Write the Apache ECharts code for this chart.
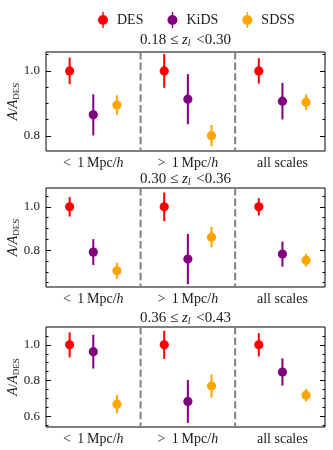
<!DOCTYPE html>
<html>
<head>
<meta charset="utf-8">
<script src="https://cdn.jsdelivr.net/npm/echarts@6/dist/echarts.min.js"></script>
<style>
html, body { margin: 0; padding: 0; background: #fff; }
#chart { width: 333px; height: 450px; }
</style>
</head>
<body>
<div id="chart"></div>
<script>
// 数据：A / A_DES，每行一个 z_l 区间，每列一个尺度
const surveys = ['DES', 'KiDS', 'SDSS']
const scaleLabels = ['< 1 Mpc/h', '> 1 Mpc/h', 'all scales']
const zBins = [['0.18', '0.30'], ['0.30', '0.36'], ['0.36', '0.43']]

const desRatio = [[1, 1, 1], [1, 1, 1], [1, 1, 1]]
const desErr = [[0.041, 0.052, 0.039], [0.045, 0.066, 0.040], [0.070, 0.079, 0.065]]
const kidsRatio = [[0.865, 0.913, 0.907], [0.791, 0.759, 0.782], [0.962, 0.683, 0.848]]
const kidsErr = [[0.063, 0.077, 0.056], [0.060, 0.116, 0.058], [0.095, 0.120, 0.076]]
const sdssRatio = [[0.895, 0.801, 0.904], [0.705, 0.860, 0.753], [0.668, 0.769, 0.718]]
const sdssErr = [[0.030, 0.033, 0.024], [0.037, 0.047, 0.030], [0.052, 0.065, 0.035]]

const yRanges = [[0.754, 1.058], [0.630, 1.087], [0.540, 1.100]]
const yMajor = [0.6, 0.8, 1.0]
const yMinor = [0.55, 0.65, 0.7, 0.75, 0.85, 0.9, 0.95, 1.05]
const dividers = [0.5, 1.5]

// 样式
const FONT = 'Liberation Serif'
const TXT = '#1a1a1a'
const colors = ['#ff0000', '#800080', '#ffa500']
const offsets = [-0.25, 0, 0.25]
const boxTop = [52, 188, 327]
const boxH = [99, 99, 100]
const boxLeft = 46
const boxW = 279
const titleY = [40, 179, 318]

const ratios = [desRatio, kidsRatio, sdssRatio]
const errs = [desErr, kidsErr, sdssErr]

const inRange = (arr, r) => arr.filter((v) => v > r[0] + 1e-6 && v < r[1] - 1e-6)

const grid = []
const xAxis = []
const yAxis = []
const series = []
const graphic = []

yRanges.forEach((r, p) => {
    grid.push({
        left: boxLeft, top: boxTop[p], width: boxW, height: boxH[p],
        outerBoundsMode: 'none', containLabel: false,
        show: true, borderColor: '#000', borderWidth: 1, backgroundColor: 'transparent',
    })

    xAxis.push({
        type: 'value', gridIndex: p, min: -0.5, max: 2.45,
        axisLine: { show: false, onZero: false }, axisTick: { show: false }, splitLine: { show: false },
        axisLabel: {
            customValues: [0, 1, 2],
            margin: 5,
            color: TXT, fontFamily: FONT, fontSize: 14,
            formatter: (v) => scaleLabels[Math.round(v)].replace('< 1 ', '<\u2009 1\u2009').replace('> 1 ', '>\u2009 1\u2009').replace('/h', '/{i|h}'),
            rich: { i: { fontStyle: 'italic', fontFamily: FONT, fontSize: 14, color: TXT } },
        },
    })

    // 左右主刻度、次刻度（朝内）
    const base = yAxis.length
    ;['left', 'right'].forEach((pos) => {
        yAxis.push({
            type: 'value', gridIndex: p, position: pos, min: r[0], max: r[1],
            axisLine: { show: false, onZero: false }, splitLine: { show: false },
            axisTick: { inside: true, length: 5, customValues: inRange(yMajor, r), lineStyle: { color: '#000', width: 1 } },
            axisLabel: {
                show: pos === 'left', customValues: inRange(yMajor, r), margin: 6,
                color: TXT, fontFamily: FONT, fontSize: 13,
                formatter: (v) => v.toFixed(1),
            },
            name: pos === 'left' ? '{i|A}/{i|A}{s|DES}' : '',
            nameLocation: 'middle', nameRotate: 90, nameGap: 25, nameMoveOverlap: false,
            nameTextStyle: {
                color: TXT, fontFamily: FONT, fontSize: 13,
                rich: {
                    i: { fontStyle: 'italic', fontFamily: FONT, fontSize: 14, color: TXT },
                    s: { fontFamily: FONT, fontSize: 9, color: TXT, padding: [7, 0, 0, 0] },
                },
            },
        })
        yAxis.push({
            type: 'value', gridIndex: p, position: pos, min: r[0], max: r[1],
            axisLine: { show: false, onZero: false }, splitLine: { show: false }, axisLabel: { show: false },
            axisTick: { inside: true, length: 2.5, customValues: inRange(yMinor, r), lineStyle: { color: '#000', width: 1 } },
        })
    })

    // 虚线分隔
    series.push({
        type: 'custom', xAxisIndex: p, yAxisIndex: base, silent: true,
        data: dividers.map((d) => [d, r[0]]),
        renderItem(params, api) {
            const cs = params.coordSys
            const x = api.coord([api.value(0), r[0]])[0]
            return {
                type: 'line',
                shape: { x1: x, y1: cs.y, x2: x, y2: cs.y + cs.height },
                style: { stroke: '#808080', lineWidth: 2, lineDash: [7.4, 3.2] },
            }
        },
    })

    // 误差棒
    surveys.forEach((name, s) => {
        const color = colors[s]
        series.push({
            type: 'custom', name, xAxisIndex: p, yAxisIndex: base,
            itemStyle: { color },
            data: ratios[s][p].map((v, g) => [g + offsets[s], v, errs[s][p][g]]),
            renderItem(params, api) {
                const x = api.value(0), y = api.value(1), e = api.value(2)
                const hi = api.coord([x, y + e])
                const lo = api.coord([x, y - e])
                const c = api.coord([x, y])
                return {
                    type: 'group',
                    children: [
                        { type: 'line', shape: { x1: hi[0], y1: hi[1], x2: lo[0], y2: lo[1] }, style: { stroke: color, lineWidth: 2 } },
                        { type: 'circle', shape: { cx: c[0], cy: c[1], r: 4.6 }, style: { fill: color } },
                    ],
                }
            },
        })
    })

    graphic.push({
        type: 'text', x: boxLeft + boxW / 2, y: titleY[p], silent: true,
        style: {
            text: `${zBins[p][0]} \u2264 {i|z}{s|l} <${zBins[p][1]}`,
            align: 'center', verticalAlign: 'middle',
            fontFamily: FONT, fontSize: 15, fill: TXT,
            rich: {
                i: { fontStyle: 'italic', fontFamily: FONT, fontSize: 15, color: TXT },
                s: { fontStyle: 'italic', fontFamily: FONT, fontSize: 10, color: TXT, padding: [7, 2, 0, 0] },
            },
        },
    })
})

const legendIcon = 'path://M4.3,0h1.4v16h-1.4z M0,8a5,5 0 1,1 10,0a5,5 0 1,1 -10,0z'

const option = {
    animation: false,
    backgroundColor: '#fff',
    textStyle: { fontFamily: FONT },
    legend: {
        left: 93, top: 7, itemWidth: 10, itemHeight: 16, itemGap: 24,
        selectedMode: false,
        data: surveys.map((name) => ({ name, icon: legendIcon })),
        textStyle: { color: TXT, fontFamily: FONT, fontSize: 14, padding: [0, 0, 0, 4] },
    },
    grid, xAxis, yAxis, series, graphic,
}

const myChart = echarts.init(document.getElementById('chart'), null, { renderer: 'canvas' })
myChart.setOption(option)
</script>
</body>
</html>
